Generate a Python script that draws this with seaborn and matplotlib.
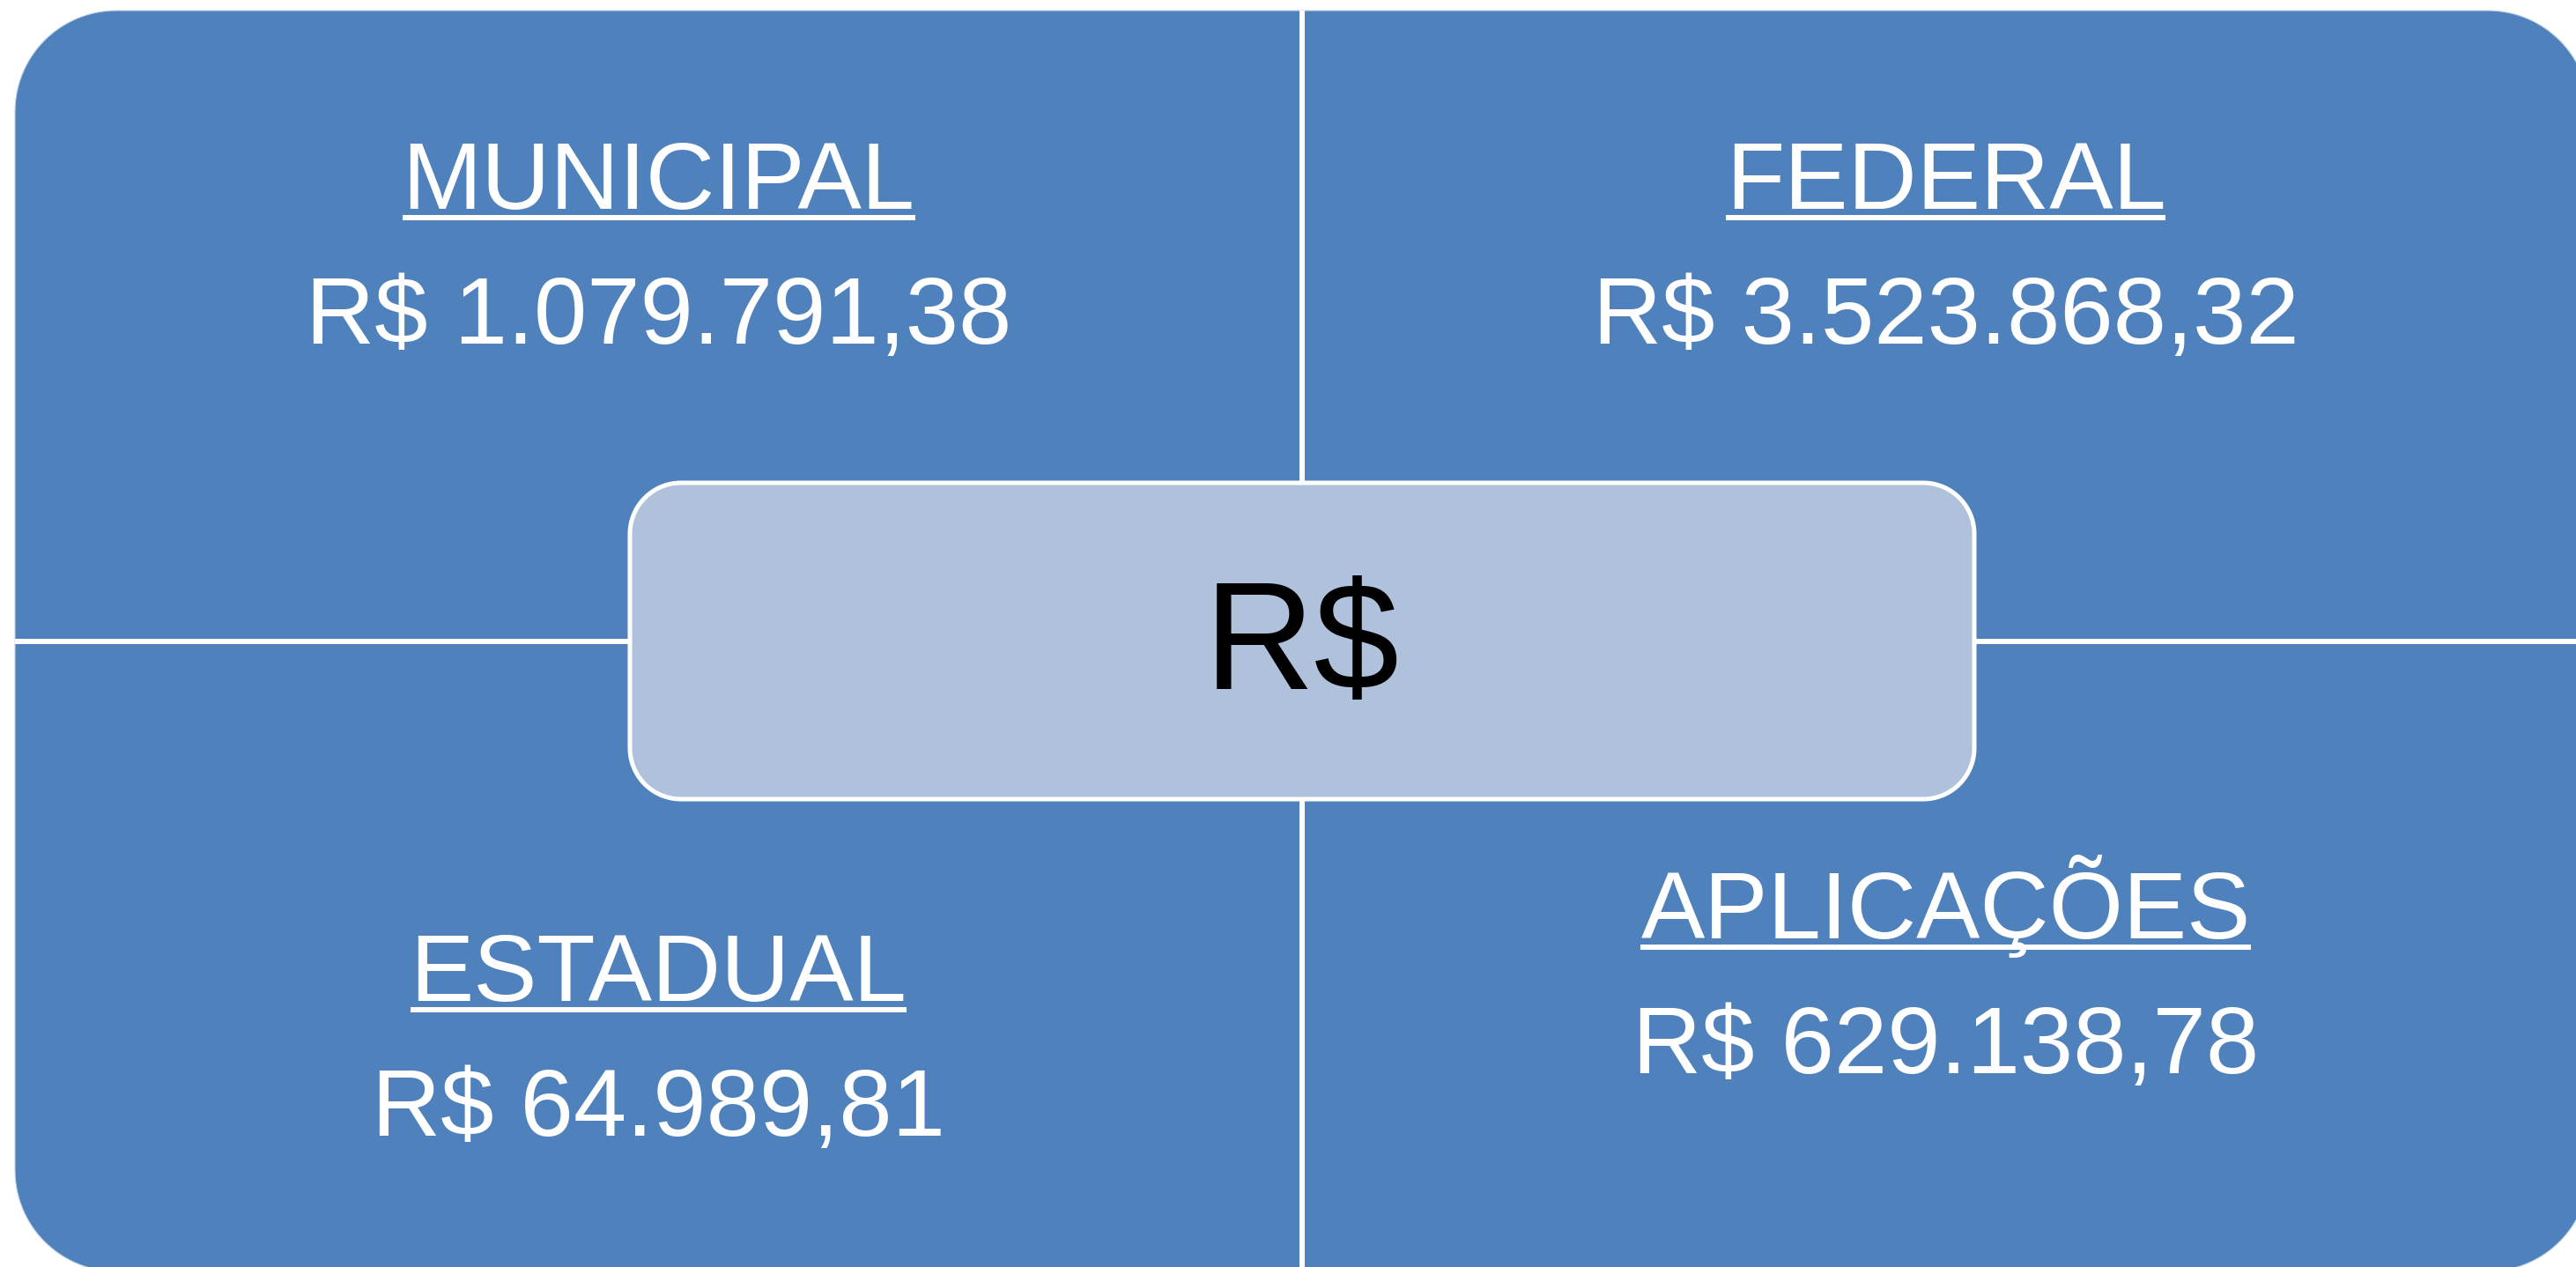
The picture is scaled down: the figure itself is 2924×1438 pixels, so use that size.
"""Quadro de receitas por fonte (matriz 2x2 com caixa central R$)."""
import numpy as np
import matplotlib
matplotlib.use("Agg")
import matplotlib.pyplot as plt
from matplotlib.patches import Polygon
import seaborn as sns

# --- dados ---
fontes = ["MUNICIPAL", "FEDERAL", "ESTADUAL", "APLICAÇÕES"]
valores = [1079791.38, 3523868.32, 64989.81, 629138.78]
centro = "R$"

# --- estilo ---
AZUL = "#4F81BD"
AZUL_CLARO = "#B0C1DB"
W, H = 2924, 1438
DPI = 100


def brl(v):
    """Formata no padrão brasileiro: R$ 1.234,56"""
    s = f"{v:,.2f}".replace(",", "X").replace(".", ",").replace("X", ".")
    return f"R$ {s}"


def caixa_arredondada(x, y, w, h, r, **kw):
    """Retângulo com cantos em arco de círculo (eixo y para baixo)."""
    t = np.linspace(0, np.pi / 2, 40)
    cantos = [(x + r, y + r, np.pi), (x + w - r, y + r, 1.5 * np.pi),
              (x + w - r, y + h - r, 0.0), (x + r, y + h - r, 0.5 * np.pi)]
    pts = [np.column_stack([cx + r * np.cos(a0 + t), cy + r * np.sin(a0 + t)])
           for cx, cy, a0 in cantos]
    return Polygon(np.vstack(pts), closed=True, **kw)


sns.set_theme(style="white")
plt.rcParams["font.family"] = ["Liberation Sans", "DejaVu Sans"]

fig = plt.figure(figsize=(W / DPI, H / DPI), dpi=DPI)
ax = fig.add_axes([0, 0, 1, 1])
ax.set_xlim(0, W)
ax.set_ylim(H, 0)
ax.axis("off")

# caixa externa (quatro quadrantes)
x0, y0, x1, y1 = 17, 12, 2939, 1443
ax.add_patch(caixa_arredondada(x0, y0, x1 - x0, y1 - y0, 115,
                               facecolor=AZUL, edgecolor="#C5D4E8", lw=0.8))
cx, cy = (x0 + x1) / 2, (y0 + y1) / 2

# divisórias brancas
ax.plot([cx, cx], [y0, y1], color="white", lw=4.3, solid_capstyle="butt")
ax.plot([x0, x1], [cy, cy], color="white", lw=4.3, solid_capstyle="butt")

# caixa central
bw, bh = 1526, 359
ax.add_patch(caixa_arredondada(cx - bw / 2, cy - bh / 2, bw, bh, 58,
                               facecolor=AZUL_CLARO, edgecolor="white",
                               lw=3.6, zorder=3))
ax.text(cx, cy + 54, centro, ha="center", va="baseline",
        fontsize=125, color="black", zorder=4)

# textos dos quadrantes
centros_x = [(x0 + cx) / 2, (cx + x1) / 2, (x0 + cx) / 2, (cx + x1) / 2]
base_rotulo = [237, 237, 1136, 1065]
passo = 153

fig.canvas.draw()
renderer = fig.canvas.get_renderer()
inv = ax.transData.inverted()

for fonte, valor, xc, yb in zip(fontes, valores, centros_x, base_rotulo):
    t = ax.text(xc, yb, fonte, ha="center", va="baseline",
                fontsize=78, color="white", zorder=4)
    ax.text(xc, yb + passo, brl(valor), ha="center", va="baseline",
            fontsize=78, color="white", zorder=4)
    # sublinhado
    bb = t.get_window_extent(renderer)
    (ux0, _), (ux1, _) = inv.transform([(bb.x0, bb.y0), (bb.x1, bb.y0)])
    ax.plot([ux0, ux1], [yb + 10, yb + 10], color="white", lw=4.3,
            solid_capstyle="butt", zorder=4)

fig.savefig("out.png", dpi=DPI, facecolor="white")
